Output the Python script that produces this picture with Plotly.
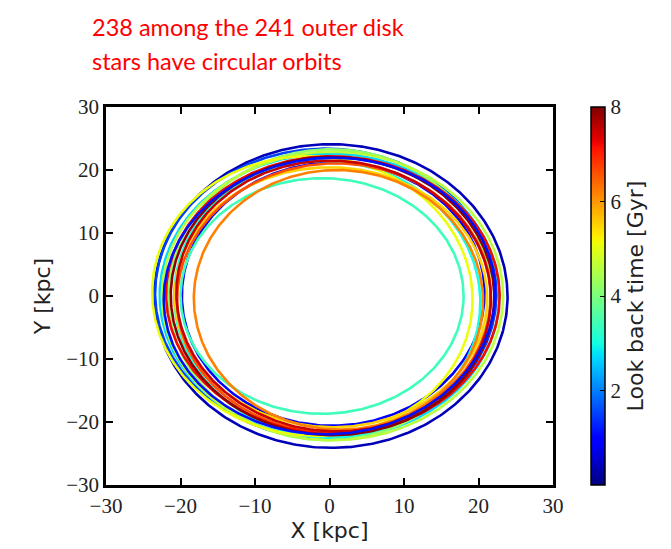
import numpy as np
import plotly.graph_objects as go

# Orbit parameters (kpc), and look-back time (Gyr)
look_back = [0.4, 0.9, 1.5, 3.4, 2.7, 3.0, 4.2, 4.6, 5.1, 5.5, 6.2, 6.6, 7.2, 7.5, 7.9, 1.1]
center_x  = [0.2, 0.5, -0.5, -1.0, 0.0, -0.3, 0.0, 0.4, -2.3, 0.2, 1.2, 0.6, 0.45, 0.55, 0.4, 0.0]
center_y  = [0.0, 0.3, 0.4, 0.0, 0.0, -0.5, 0.2, 0.0, 0.0, -0.2, -0.6, -0.3, 0.15, 0.0, 0.0, 0.0]
semi_a    = [23.7, 20.3, 22.9, 19.0, 22.8, 20.5, 21.6, 22.9, 21.4, 21.0, 19.4, 21.0, 22.4, 21.0, 21.7, 22.4]
semi_b    = [24.1, 20.9, 23.0, 18.7, 22.6, 22.0, 23.1, 22.9, 22.3, 20.6, 20.6, 21.4, 22.0, 21.6, 22.1, 21.8]
tilt_deg  = [5, -10, 15, 0, -8, 10, -5, 12, 20, -15, 5, -20, -12, 25, 8, 30]

x_ticks = [-30, -20, -10, 0, 10, 20, 30]
y_ticks = [-30, -20, -10, 0, 10, 20, 30]
cbar_ticks = [2, 4, 6, 8]
title_lines = ["238 among the 241 outer disk", "stars have circular orbits"]

# matplotlib-style jet colorscale
def jet(v):
    r = np.interp(v, [0, 0.35, 0.66, 0.89, 1], [0, 0, 1, 1, 0.5])
    g = np.interp(v, [0, 0.125, 0.375, 0.64, 0.91, 1], [0, 0, 1, 1, 0, 0])
    b = np.interp(v, [0, 0.11, 0.34, 0.65, 1], [0.5, 1, 1, 0, 0])
    return "rgb(%d,%d,%d)" % (round(r * 255), round(g * 255), round(b * 255))

stops = [0, 0.11, 0.125, 0.34, 0.35, 0.375, 0.5, 0.64, 0.65, 0.66, 0.89, 0.91, 1]
jet_scale = [[s, jet(s)] for s in stops]

tmin, tmax = 0.0, 8.0
fig = go.Figure()
s = np.linspace(0, 2 * np.pi, 400)
for t, cx, cy, a, b, th in zip(look_back, center_x, center_y, semi_a, semi_b, tilt_deg):
    th = np.radians(th)
    x = cx + a * np.cos(s) * np.cos(th) - b * np.sin(s) * np.sin(th)
    y = cy + a * np.cos(s) * np.sin(th) + b * np.sin(s) * np.cos(th)
    fig.add_trace(go.Scatter(x=x, y=y, mode="lines",
                             line=dict(color=jet((t - tmin) / (tmax - tmin)), width=2.6),
                             hoverinfo="skip", showlegend=False))

# colorbar carrier
fig.add_trace(go.Scatter(
    x=[None], y=[None], mode="markers", showlegend=False,
    marker=dict(color=look_back, cmin=tmin, cmax=tmax, colorscale=jet_scale,
                showscale=True,
                colorbar=dict(
                    x=1.062, xanchor="left", xref="paper",
                    y=0.5, yanchor="middle", len=1.0, lenmode="fraction", ypad=0,
                    thickness=14, outlinecolor="black", outlinewidth=1.5,
                    tickvals=cbar_ticks, ticktext=[str(v) for v in cbar_ticks],
                    ticks="inside", ticklen=5, tickcolor="black",
                    tickfont=dict(family="Liberation Serif", size=21, color="#222"),
                    title=dict(text="Look back time [Gyr]", side="right",
                               font=dict(family="DejaVu Sans", size=22, color="#222")),
                ))))

axis_common = dict(
    showgrid=False, zeroline=False, showline=True, linecolor="black", linewidth=2.5,
    mirror="ticks", ticks="inside", ticklen=7, tickwidth=1.5, tickcolor="black",
    tickfont=dict(family="Liberation Serif", size=21, color="#222"),
)
fig.update_xaxes(range=[-30, 30], tickvals=x_ticks, ticktext=[str(v).replace("-", "\u2212") for v in x_ticks],
                 title=dict(text="X [kpc]", font=dict(family="DejaVu Sans", size=22, color="#222"), standoff=4),
                 **axis_common)
fig.update_yaxes(range=[-30, 30], tickvals=y_ticks, ticktext=[str(v).replace("-", "\u2212") for v in y_ticks],
                 title=dict(text="Y [kpc]", font=dict(family="DejaVu Sans", size=22, color="#222"), standoff=10),
                 **axis_common)

for i, line in enumerate(title_lines):
    fig.add_annotation(
        text=line, xref="paper", yref="paper",
        x=(90 - 106) / 451, y=1 + (107 - 9 - 35 * i) / 384,
        xanchor="left", yanchor="top", align="left", showarrow=False,
        font=dict(family="Lato", size=23.5, color="red"),
    )

fig.update_layout(
    width=671, height=549,
    margin=dict(l=106, r=114, t=107, b=58),
    paper_bgcolor="white", plot_bgcolor="white",
)

fig.write_html("out.html")
